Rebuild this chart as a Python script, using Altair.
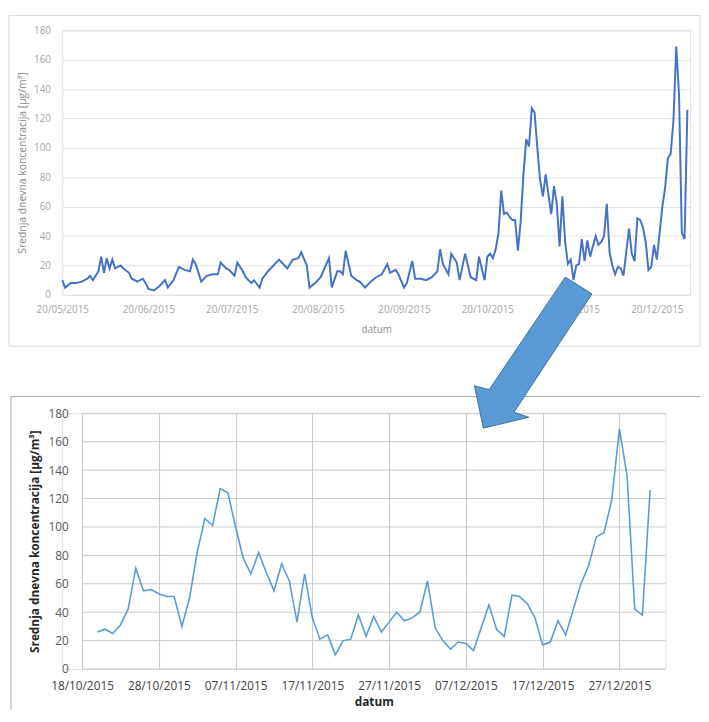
import altair as alt
import pandas as pd

# ---------------- data ----------------
early_dates = [
    "2015-05-20", "2015-05-21", "2015-05-23", "2015-05-25", "2015-05-27", "2015-05-29", "2015-05-30", "2015-05-31",
    "2015-06-02", "2015-06-03", "2015-06-04", "2015-06-05", "2015-06-06", "2015-06-07", "2015-06-08", "2015-06-10",
    "2015-06-11", "2015-06-13", "2015-06-14", "2015-06-16", "2015-06-18", "2015-06-19", "2015-06-20", "2015-06-22",
    "2015-06-24", "2015-06-26", "2015-06-27", "2015-06-29", "2015-07-01", "2015-07-03", "2015-07-05", "2015-07-06",
    "2015-07-07", "2015-07-09", "2015-07-11", "2015-07-13", "2015-07-15", "2015-07-16", "2015-07-18", "2015-07-19",
    "2015-07-21", "2015-07-22", "2015-07-24", "2015-07-25", "2015-07-27", "2015-07-28", "2015-07-30", "2015-07-31",
    "2015-08-02", "2015-08-04", "2015-08-06", "2015-08-07", "2015-08-09", "2015-08-11", "2015-08-13", "2015-08-14",
    "2015-08-16", "2015-08-17", "2015-08-19", "2015-08-21", "2015-08-24", "2015-08-25", "2015-08-27", "2015-08-28",
    "2015-08-29", "2015-08-30", "2015-09-01", "2015-09-03", "2015-09-04", "2015-09-06", "2015-09-08", "2015-09-10",
    "2015-09-12", "2015-09-14", "2015-09-15", "2015-09-17", "2015-09-18", "2015-09-20", "2015-09-21", "2015-09-23",
    "2015-09-24", "2015-09-26", "2015-09-28", "2015-09-30", "2015-10-02", "2015-10-03", "2015-10-04", "2015-10-06",
    "2015-10-07", "2015-10-09", "2015-10-10", "2015-10-12", "2015-10-14", "2015-10-16", "2015-10-17", "2015-10-19",
]
early_values = [
    10, 5, 8, 8, 9, 11, 13, 10,
    16, 26, 15, 25, 18, 24, 18, 20,
    18, 15, 11, 9, 11, 8, 4, 3,
    6, 10, 5, 10, 19, 17, 16, 24,
    21, 9, 13, 14, 14, 22, 18, 17,
    13, 22, 16, 12, 8, 10, 5, 11,
    16, 20, 24, 22, 18, 24, 25, 29,
    20, 5, 8, 12, 25, 5, 16, 16,
    14, 30, 13, 10, 9, 5, 9, 12,
    14, 21, 15, 17, 14, 5, 8, 23,
    11, 11, 10, 12, 16, 31, 21, 14,
    28, 22, 10, 28, 12, 10, 26, 10,
]

late_start = "2015-10-20"
late_end = "2015-12-31"
late_values = [
    # October 20-31
    26, 28, 25, 31, 42, 71, 55, 56, 53, 51, 51, 30,
    # November
    50, 82, 106, 101, 127, 124, 100, 78, 67, 82, 68, 55, 74, 62, 33,
    67, 36, 21, 24, 10, 20, 21, 38, 23, 37, 26, 33, 40, 34, 36,
    # December
    40, 62, 29, 20, 14, 19, 18, 13, 29, 45, 28, 23, 52, 51, 46, 36,
    17, 19, 34, 24, 42, 60, 73, 93, 96, 119, 169, 136, 42, 38, 126,
]

top_ticks = ["2015-05-20", "2015-06-20", "2015-07-20", "2015-08-20",
             "2015-09-20", "2015-10-20", "2015-11-20", "2015-12-20"]
bottom_ticks = ["2015-10-18", "2015-10-28", "2015-11-07", "2015-11-17",
                "2015-11-27", "2015-12-07", "2015-12-17", "2015-12-27"]
top_domain = ["2015-05-20", "2016-01-01"]
bottom_domain = ["2015-10-18", "2016-01-02"]
y_ticks = [0, 20, 40, 60, 80, 100, 120, 140, 160, 180]

y_title = "Srednja dnevna koncentracija [µg/m³]"
x_title = "datum"


def dt(s):
    y, m, d = (int(p) for p in s.split("-"))
    return alt.DateTime(year=y, month=m, date=d)


late_dates = pd.date_range(late_start, late_end, freq="D")
assert len(late_dates) == len(late_values)
assert len(early_dates) == len(early_values)

top_df = pd.DataFrame({
    "datum": list(pd.to_datetime(early_dates)) + list(late_dates),
    "value": early_values + late_values,
})
bot_df = pd.DataFrame({"datum": late_dates, "value": late_values})
grid_df = pd.DataFrame({"value": y_ticks})
one = pd.DataFrame({"k": [0]})

FONT = "Open Sans"

# ---------------- top chart ----------------
TW, TH = 636, 268

top_x = alt.X(
    "datum:T",
    scale=alt.Scale(domain=[dt(s) for s in top_domain]),
    axis=alt.Axis(
        values=[dt(s) for s in top_ticks], format="%d/%m/%Y", title=x_title,
        grid=False, domain=False, ticks=False, labelFlush=False,
        labelPadding=10, labelFont=FONT, labelFontSize=10, labelColor="#a6a6a6",
        titleFont=FONT, titleFontSize=10, titleFontWeight="normal",
        titleColor="#8c8c8c", titlePadding=10,
    ),
)
top_y = alt.Y(
    "value:Q",
    scale=alt.Scale(domain=[0, 180]),
    axis=alt.Axis(
        values=y_ticks, title=y_title, grid=True, gridColor="#e3e3e3",
        domain=False, ticks=False, labelPadding=12, labelOverlap=False,
        labelFont=FONT, labelFontSize=10, labelColor="#a6a6a6",
        titleFont=FONT, titleFontSize=10.5, titleFontWeight="normal",
        titleColor="#8c8c8c", titlePadding=6,
    ),
)

top_frame = alt.Chart(one).mark_rect(
    fillOpacity=0, stroke="#d9d9d9", strokeWidth=1
).encode(x=alt.value(-54), x2=alt.value(646), y=alt.value(-15), y2=alt.value(320))

top_line = alt.Chart(top_df).mark_line(
    color="#4472C4", strokeWidth=2
).encode(x=top_x, y=top_y)

top_chart = alt.layer(top_frame, top_line).properties(width=TW, height=TH)

# ---------------- bottom chart ----------------
BW, BH = 611, 259
BX0 = 20

bot_y_scale = alt.Scale(domain=[0, 180])
bot_y_axis = alt.Axis(
    values=y_ticks, title=y_title, grid=False, offset=-BX0,
    domain=False, ticks=False, labelPadding=14, labelOverlap=False,
    labelFont=FONT, labelFontSize=12, labelColor="#595959",
    titleFont=FONT, titleFontSize=12, titleFontWeight="bold",
    titleColor="#262626", titlePadding=7,
)

bot_x = alt.X(
    "datum:T",
    scale=alt.Scale(domain=[dt(s) for s in bottom_domain], range=[BX0, BW]),
    axis=alt.Axis(
        values=[dt(s) for s in bottom_ticks], format="%d/%m/%Y", title=x_title,
        grid=True, gridColor="#c8c8c8", domain=False, ticks=False, labelFlush=False,
        labelPadding=12, labelFont=FONT, labelFontSize=12, labelColor="#404040",
        titleFont=FONT, titleFontSize=12, titleFontWeight="bold",
        titleColor="#262626", titlePadding=5,
    ),
)

frame_b_top = alt.Chart(one).mark_rule(color="#a6a6a6", strokeWidth=1).encode(
    x=alt.value(-52), x2=alt.value(646), y=alt.value(-17))
frame_b_left = alt.Chart(one).mark_rule(color="#a6a6a6", strokeWidth=1).encode(
    x=alt.value(-52), y=alt.value(-17), y2=alt.value(300))

grid_rules = alt.Chart(grid_df).mark_rule(color="#c8c8c8", strokeWidth=1).encode(
    y=alt.Y("value:Q", scale=bot_y_scale, axis=bot_y_axis),
    x=alt.value(BX0), x2=alt.value(BW))

bot_line = alt.Chart(bot_df).mark_line(color="#5B9BD5", strokeWidth=1.6).encode(
    x=bot_x, y=alt.Y("value:Q", scale=bot_y_scale, axis=bot_y_axis))

ARROW = ("M0.425,-1L0.778,-0.778L-0.255,0.791L-0.059,0.856"
         "L-0.66,1L-0.778,0.438L-0.582,0.49Z")
arrow = alt.Chart(one).mark_point(
    shape=ARROW, size=23409, filled=True, fill="#5B9BD5", fillOpacity=1,
    stroke="#41719C", strokeWidth=1, opacity=1,
).encode(x=alt.value(477), y=alt.value(-61.5))

bottom_chart = alt.layer(
    frame_b_top, frame_b_left, grid_rules, bot_line, arrow
).properties(width=BW, height=BH)

chart = alt.vconcat(
    top_chart, bottom_chart, spacing=120, bounds="flush"
).properties(
    padding={"left": 0, "top": 2, "right": 0, "bottom": 0}
).configure_view(strokeWidth=0).configure_axis(
    labelOverlap=False
).configure(background="white")

chart.save("out.html", embed_options={"renderer": "svg", "actions": False})
